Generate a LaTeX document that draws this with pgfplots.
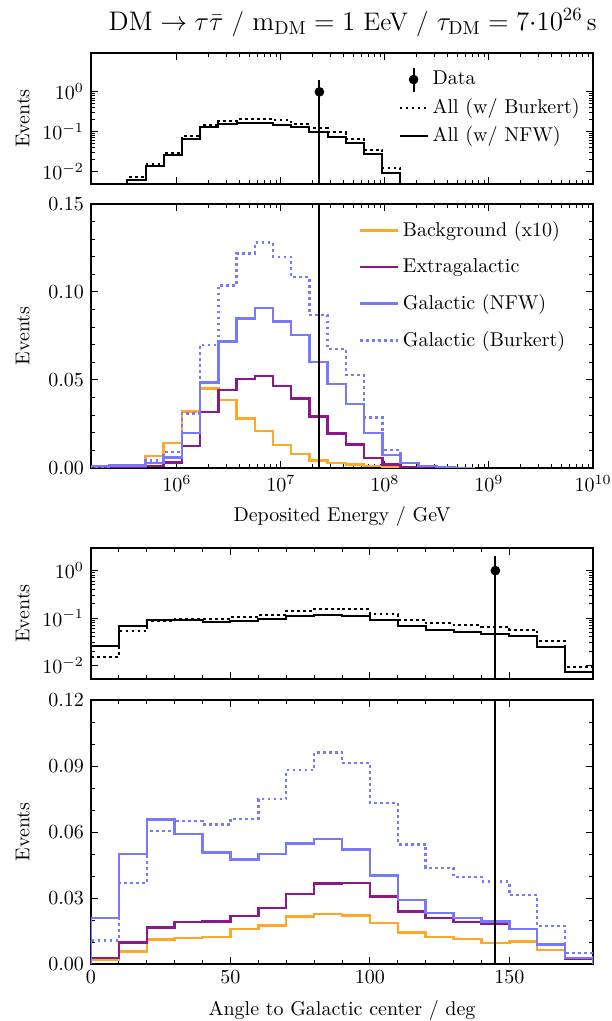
\documentclass[border=0pt]{standalone}
\usepackage{graphicx}
\usepackage{pgfplots}
\usepackage{pgfplotstable}
\pgfplotsset{compat=1.18}

\definecolor{bkgorange}{HTML}{FFA726}
\definecolor{egpurple}{HTML}{8C198C}
\definecolor{galblue}{HTML}{7878FF}

% energy histograms (bin edges: 40 log bins from 1e3 to 1e10)
\pgfplotstableread{
E        bkg     eg      nfw     bur
1.4962e5 0       0       0       0
1.4962e5 0.0005  0.0003  0.0010  0.0008
2.2387e5 0.0008  0.0004  0.0013  0.0013
3.3497e5 0.0010  0.0006  0.0015  0.0015
5.0119e5 0.0067  0.0010  0.0029  0.0042
7.4989e5 0.0143  0.0032  0.0061  0.0092
1.1220e6 0.0322  0.0124  0.0200  0.0310
1.6788e6 0.0453  0.0318  0.0485  0.0700
2.5119e6 0.0385  0.0442  0.0718  0.1037
3.7584e6 0.0280  0.0505  0.0850  0.1220
5.6234e6 0.0210  0.0524  0.0908  0.1280
8.4140e6 0.0130  0.0466  0.0832  0.1200
1.2589e7 0.0080  0.0394  0.0756  0.1085
1.8836e7 0.0044  0.0294  0.0603  0.0870
2.8184e7 0.0029  0.0195  0.0476  0.0676
4.2170e7 0.0019  0.0134  0.0365  0.0527
6.3096e7 0.0010  0.0057  0.0200  0.0288
9.4406e7 0.0006  0.0019  0.0074  0.0102
1.4125e8 0.0005  0.0006  0.0029  0.0029
2.1135e8 0.0004  0.0002  0.0010  0.0010
3.1623e8 0.0002  0.0001  0.0002  0.0002
4.7315e8 0.0001  0       0       0
7.0795e8 0.0001  0       0       0
7.0795e8 0       0       0       0
}\energytab

\pgfplotstableread{
E        nfw     bur
1.4962e5 0.0030  0.0020
2.2387e5 0.0046  0.0042
3.3497e5 0.0060  0.0070
5.0119e5 0.0136  0.0154
7.4989e5 0.0260  0.0290
1.1220e6 0.0670  0.0760
1.6788e6 0.1280  0.1460
2.5119e6 0.1580  0.1810
3.7584e6 0.1670  0.2070
5.6234e6 0.1670  0.2070
8.4140e6 0.1430  0.1920
1.2589e7 0.1280  0.1580
1.8836e7 0.0950  0.1200
2.8184e7 0.0730  0.0950
4.2170e7 0.0510  0.0650
6.3096e7 0.0270  0.0350
9.4406e7 0.0091  0.0120
1.4125e8 0.0040  0.0042
2.1135e8 0.0016  0.0016
3.1623e8 0.0005  0.0005
4.7315e8 0.0001  0.0001
7.0795e8 0.0001  0.0001
}\energytot

% angle histograms (10 deg bins)
\pgfplotstableread{
A    bkg    eg     nfw    bur
0    0      0      0      0
0    0.0018 0.0027 0.0208 0.0106
10   0.0056 0.0097 0.0501 0.0369
20   0.0111 0.0167 0.0656 0.0605
30   0.0118 0.0190 0.0591 0.0650
40   0.0122 0.0194 0.0506 0.0635
50   0.0160 0.0219 0.0475 0.0659
60   0.0175 0.0254 0.0501 0.0749
70   0.0216 0.0319 0.0547 0.0881
80   0.0228 0.0365 0.0568 0.0962
90   0.0220 0.0368 0.0520 0.0914
100  0.0187 0.0307 0.0403 0.0732
110  0.0144 0.0238 0.0292 0.0544
120  0.0122 0.0208 0.0231 0.0436
130  0.0114 0.0190 0.0208 0.0395
140  0.0096 0.0185 0.0193 0.0375
150  0.0103 0.0158 0.0160 0.0314
160  0.0064 0.0091 0.0088 0.0172
170  0.0023 0.0026 0.0027 0.0049
180  0.0023 0.0026 0.0027 0.0049
180  0      0      0      0
}\angletab

\pgfplotstableread{
A    nfw    bur
0    0.0252 0.0153
10   0.0667 0.0525
20   0.0930 0.0860
30   0.0910 0.0945
40   0.0815 0.0970
50   0.0850 0.1050
60   0.0945 0.1160
70   0.1090 0.1420
80   0.1165 0.1570
90   0.1100 0.1520
100  0.0890 0.1210
110  0.0670 0.0920
120  0.0570 0.0770
130  0.0510 0.0700
140  0.0470 0.0650
150  0.0410 0.0570
160  0.0248 0.0330
170  0.0073 0.0095
180  0.0073 0.0095
}\angletot

\pgfplotsset{
  panel/.style={
    scale only axis, width=251pt,
    anchor=north west,
    tick align=inside, tick pos=both,
    major tick length=3.5pt, minor tick length=2pt,
    every tick/.style={black, line width=0.5pt},
    axis line style={line width=0.6pt},
    ylabel={Events},
    ylabel style={at={(axis description cs:0,0.5)}, anchor=south, inner sep=0pt, yshift=30.5pt},
    xlabel style={at={(axis description cs:0.5,0)}, anchor=north, inner sep=0pt, yshift=-19pt},
    legend cell align=left,
  },
  hist/.style={const plot mark left, no marks, line width=1.25pt},
  dots/.style={dash pattern=on 1.4pt off 1.6pt},
  shortline/.style={legend image code/.code={\draw[##1] (0pt,0pt) -- (14pt,0pt);}},
  longline/.style={legend image code/.code={\draw[##1] (0pt,0pt) -- (19pt,0pt);}},
  datalegend/.style={legend image code/.code={%
    \draw[black,line width=1pt] (7pt,-6pt) -- (7pt,6pt);
    \fill[black] (7pt,0pt) circle (2.2pt);}},
}

\begin{document}
\begin{tikzpicture}
\path[use as bounding box] (-45.5pt,26.5pt) rectangle (260pt,-484pt);

\node[anchor=east, inner sep=0pt] at (253pt,15pt) {\resizebox{244pt}{!}{\fontsize{13.6}{16}\selectfont $\mathrm{DM}\rightarrow\tau\bar{\tau}$ / $\mathrm{m}_{\mathrm{DM}} = 1$ EeV / $\tau_{\mathrm{DM}} = 7{\cdot}10^{26}$\,s}};

% ---- energy, log totals
\begin{axis}[panel, at={(0pt,0pt)}, height=65.5pt,
    xmode=log, ymode=log,
    xmin=1.5e5, xmax=1e10, ymin=4.8e-3, ymax=9.5,
    xtick={1e6,1e7,1e8,1e9,1e10}, xticklabels={},
    ytick={0.01,0.1,1},
    legend style={at={(0.6,0.93)}, anchor=north west, draw=none, fill=none, row sep=1pt},
]
\addplot[hist, black, line width=1pt, dots, forget plot] table[x=E, y=bur] {\energytot};
\addplot[hist, black, line width=1pt, forget plot] table[x=E, y=nfw] {\energytot};
\addplot[black, line width=1pt, forget plot] coordinates {(2.35e7,1e-4) (2.35e7,2)};
\addplot[black, only marks, mark=*, mark size=2.2pt, forget plot] coordinates {(2.35e7,1)};
\addlegendimage{datalegend}
\addlegendentry{Data}
\addlegendimage{black, line width=1pt, dots, shortline}
\addlegendentry{All (w/ Burkert)}
\addlegendimage{black, line width=1pt, shortline}
\addlegendentry{All (w/ NFW)}
\end{axis}

% ---- energy, linear components
\begin{axis}[panel, at={(0pt,-75.5pt)}, height=132pt,
    xmode=log,
    xmin=1.5e5, xmax=1e10, ymin=0, ymax=0.15,
    xtick={1e6,1e7,1e8,1e9,1e10},
    ytick={0,0.05,0.1,0.15}, minor y tick num=4,
    scaled y ticks=false,
    yticklabel style={/pgf/number format/.cd, fixed, fixed zerofill, precision=2},
    xlabel={Deposited Energy / GeV},
    legend style={at={(0.52,0.965)}, anchor=north west, draw=none, fill=none, row sep=5.5pt},
]
\addplot[hist, bkgorange, longline] table[x=E, y=bkg] {\energytab};
\addlegendentry{Background (x10)}
\addplot[hist, egpurple, longline] table[x=E, y=eg] {\energytab};
\addlegendentry{Extragalactic}
\addplot[hist, galblue, longline] table[x=E, y=nfw] {\energytab};
\addlegendentry{Galactic (NFW)}
\addplot[hist, galblue, dots, longline] table[x=E, y=bur] {\energytab};
\addlegendentry{Galactic (Burkert)}
\addplot[black, line width=1pt, forget plot] coordinates {(2.35e7,0) (2.35e7,2)};
\end{axis}

% ---- angle, log totals
\begin{axis}[panel, at={(0pt,-247.5pt)}, height=65.5pt,
    ymode=log,
    xmin=0, xmax=180, ymin=5.2e-3, ymax=3.0,
    xtick={0,50,100,150}, minor x tick num=4, xticklabels={},
    ytick={0.01,0.1,1},
]
\addplot[hist, black, line width=1pt, dots] table[x=A, y=bur] {\angletot};
\addplot[hist, black, line width=1pt] table[x=A, y=nfw] {\angletot};
\addplot[black, line width=1pt] coordinates {(145,1e-4) (145,2)};
\addplot[black, only marks, mark=*, mark size=2.2pt] coordinates {(145,1)};
\end{axis}

% ---- angle, linear components
\begin{axis}[panel, at={(0pt,-323.5pt)}, height=132pt,
    xmin=0, xmax=180, ymin=0, ymax=0.12,
    xtick={0,50,100,150}, minor x tick num=4,
    ytick={0,0.03,0.06,0.09,0.12}, minor y tick num=2,
    scaled y ticks=false,
    yticklabel style={/pgf/number format/.cd, fixed, fixed zerofill, precision=2},
    xlabel={Angle to Galactic center / deg},
    xlabel style={yshift=1pt},
]
\addplot[hist, bkgorange] table[x=A, y=bkg] {\angletab};
\addplot[hist, egpurple] table[x=A, y=eg] {\angletab};
\addplot[hist, galblue] table[x=A, y=nfw] {\angletab};
\addplot[hist, galblue, dots] table[x=A, y=bur] {\angletab};
\addplot[black, line width=1pt] coordinates {(145,0) (145,2)};
\end{axis}
\end{tikzpicture}
\end{document}
